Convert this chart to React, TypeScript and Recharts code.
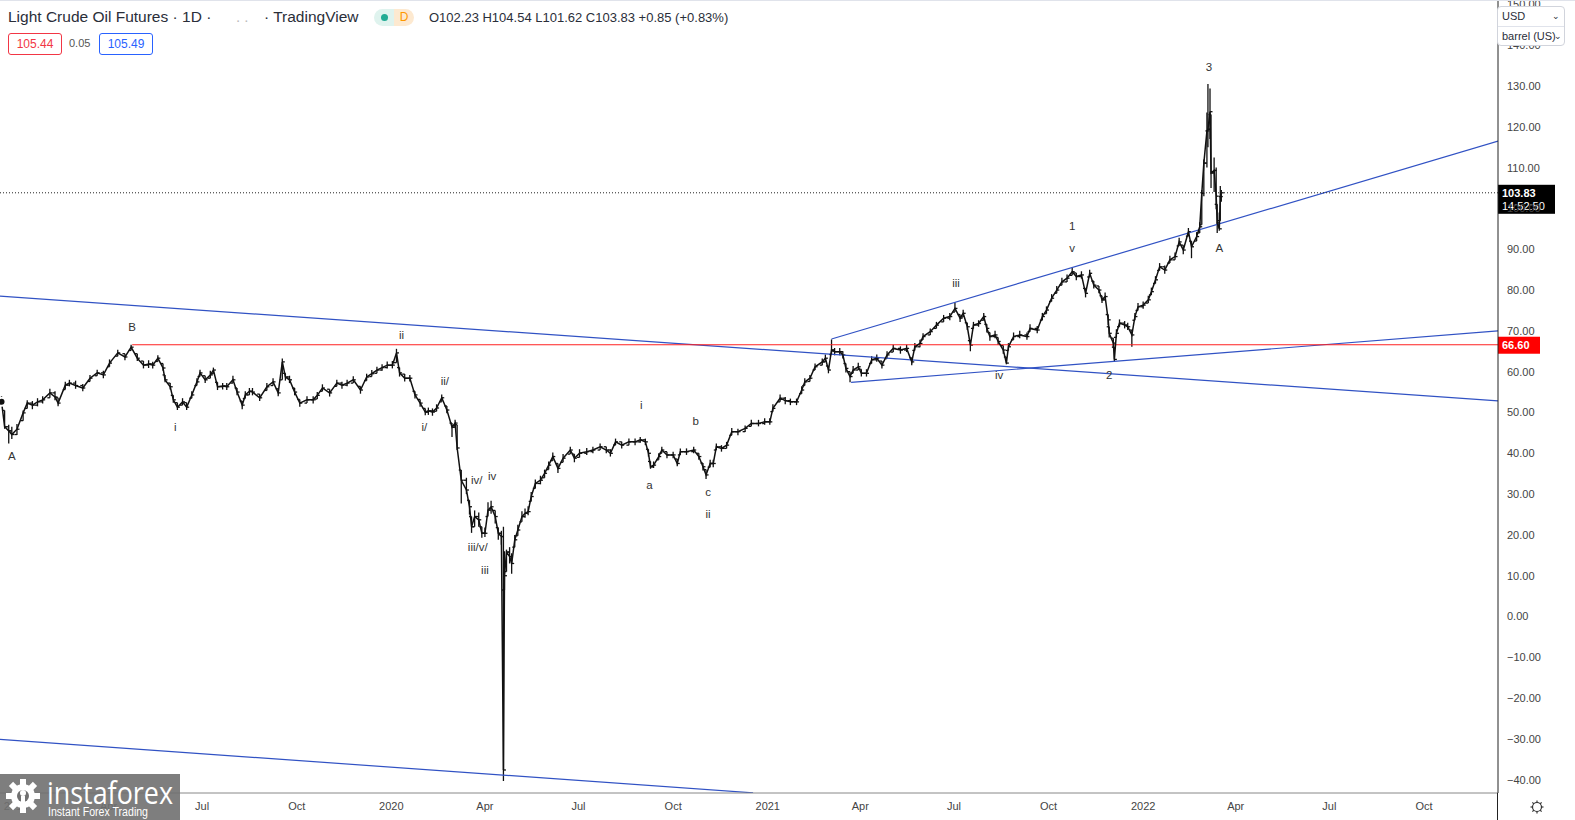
import React from 'react';
import { ComposedChart, Bar, Line, Scatter, XAxis, YAxis, ReferenceLine } from 'recharts';

// daily bars: [day since 2019-01-01, high, low, close]
const bars2019 = [
  [-14, 54.0, 51.8, 52.6], [-11, 50.5, 46.0, 46.5], [-7, 47.0, 42.4, 45.5], [-4, 46.5, 43.5, 44.6],
  [1, 47.2, 44.5, 45.9], [7, 50.5, 48.0, 49.9], [11, 53.0, 51.0, 52.3], [16, 52.8, 50.8, 51.8],
  [21, 53.5, 51.5, 52.6], [26, 54.0, 52.2, 53.1], [33, 55.8, 53.6, 54.8], [38, 55.2, 53.0, 53.8],
  [41, 53.6, 51.5, 52.3], [48, 57.5, 55.6, 56.7], [52, 58.0, 56.4, 57.2], [58, 57.8, 55.8, 56.6],
  [65, 57.0, 55.2, 56.0], [72, 59.2, 57.6, 58.4], [79, 60.5, 59.0, 59.7], [85, 60.2, 58.4, 59.2],
  [91, 63.0, 61.2, 62.1], [99, 65.4, 63.8, 64.6], [106, 64.4, 62.8, 63.6], [112, 66.6, 65.2, 66.0],
  [118, 64.4, 62.6, 63.3], [124, 62.6, 60.8, 61.6], [129, 62.8, 60.9, 61.9], [133, 62.4, 60.8, 61.6],
  [138, 64.0, 62.5, 63.3], [143, 62.0, 60.2, 60.9], [145, 59.2, 57.4, 58.0], [150, 57.2, 55.6, 56.3],
  [153, 54.2, 52.4, 53.1], [157, 52.4, 50.6, 51.3], [162, 53.5, 51.8, 52.6], [166, 52.4, 50.6, 51.3],
  [171, 55.2, 53.5, 54.3], [176, 58.4, 56.6, 57.5], [179, 60.5, 58.8, 59.7], [184, 59.0, 57.2, 58.0],
  [189, 60.2, 58.4, 59.2], [192, 61.0, 59.5, 60.4], [196, 57.4, 55.5, 56.3], [201, 57.2, 55.6, 56.5],
  [205, 57.2, 55.5, 56.3], [211, 59.0, 57.2, 58.0], [215, 56.0, 54.2, 55.0], [220, 52.8, 50.8, 51.8],
  [223, 55.2, 53.4, 54.3], [227, 56.0, 54.3, 55.2], [230, 56.0, 54.2, 55.0], [237, 54.5, 52.8, 53.6],
  [244, 57.2, 55.4, 56.3], [250, 58.4, 56.6, 57.5], [255, 55.8, 54.0, 54.8], [259, 63.2, 58.0, 62.4],
  [262, 59.6, 57.8, 58.7], [266, 59.0, 57.2, 58.0], [271, 56.0, 54.2, 55.0], [276, 53.2, 51.4, 52.3],
  [283, 54.0, 52.3, 53.1], [289, 54.0, 52.2, 53.1], [293, 55.0, 53.3, 54.2], [298, 56.9, 55.2, 56.0],
  [305, 55.7, 53.9, 54.8], [312, 58.0, 56.4, 57.2], [317, 57.5, 55.8, 56.7], [322, 58.0, 56.4, 57.2],
  [328, 58.9, 57.2, 58.0], [335, 56.4, 54.6, 55.5], [341, 59.5, 57.8, 58.7], [346, 60.4, 58.8, 59.5],
  [351, 61.2, 59.6, 60.4], [356, 61.8, 60.2, 61.0], [361, 62.5, 60.8, 61.6],
];

const bars2020 = [
  [366, 62.6, 60.8, 61.6], [370, 65.6, 62.2, 64.6], [373, 61.0, 58.8, 59.7], [378, 59.4, 57.6, 58.4],
  [383, 59.2, 57.6, 58.4], [388, 55.2, 53.4, 54.3], [393, 53.2, 51.4, 52.3], [398, 51.0, 49.3, 50.1],
  [401, 51.2, 49.4, 50.4], [405, 51.0, 49.2, 50.1], [409, 52.0, 50.3, 51.1], [414, 54.4, 52.6, 53.6],
  [419, 51.6, 49.8, 50.6], [424, 47.4, 44.0, 46.4], [427, 48.2, 46.4, 47.4], [429, 47.0, 40.8, 41.3],
  [433, 35.9, 27.7, 33.4], [438, 34.0, 30.0, 31.0], [441, 28.5, 25.0, 26.9], [443, 24.5, 20.5, 22.0],
  [446, 26.0, 22.0, 24.5], [450, 25.5, 22.0, 23.7], [453, 22.0, 19.3, 20.4], [456, 21.8, 19.5, 20.4],
  [459, 28.0, 24.5, 26.1], [462, 28.4, 25.2, 26.9], [466, 26.0, 22.8, 24.5], [469, 21.8, 18.8, 20.4],
  [472, 21.0, 17.6, 19.6], [474, 22.0, -40.3, -37.6], [475, 16.0, 6.5, 10.0], [477, 16.4, 11.0, 15.8],
  [480, 17.0, 13.0, 14.7], [482, 15.5, 10.5, 13.0], [485, 20.0, 17.0, 18.8], [488, 22.5, 19.8, 21.2],
  [492, 25.8, 23.2, 24.5], [495, 26.5, 24.2, 25.3], [498, 27.0, 24.8, 25.7], [501, 30.5, 28.2, 29.4],
  [505, 33.6, 31.4, 32.6], [510, 34.5, 32.4, 33.4], [514, 36.0, 34.0, 35.1], [518, 38.0, 36.0, 37.1],
  [522, 40.2, 38.2, 39.2], [527, 37.5, 35.2, 36.3], [532, 39.8, 37.8, 38.8], [539, 41.6, 39.8, 40.8],
  [543, 39.8, 37.8, 38.8], [548, 41.0, 39.0, 40.0], [555, 41.3, 39.6, 40.4], [561, 41.6, 40.0, 40.8],
  [568, 42.4, 40.8, 41.6], [574, 41.6, 40.0, 40.8], [578, 41.0, 39.2, 40.0], [583, 43.6, 42.0, 42.8],
  [589, 42.8, 41.2, 42.0], [596, 43.6, 42.0, 42.8], [602, 43.6, 42.0, 42.8], [607, 44.0, 42.6, 43.3],
  [612, 43.6, 42.0, 42.8], [615, 41.0, 39.2, 40.0], [617, 38.0, 36.2, 36.7], [620, 38.0, 36.4, 37.1],
  [625, 40.0, 38.4, 39.2], [628, 41.6, 40.0, 40.8], [633, 40.4, 38.8, 39.6], [639, 40.4, 38.8, 39.6],
  [643, 38.6, 36.8, 37.5], [646, 41.2, 39.6, 40.4], [652, 41.2, 39.6, 40.4], [659, 41.6, 40.0, 40.8],
  [664, 40.0, 38.4, 39.2], [668, 37.6, 35.8, 36.7], [671, 36.0, 33.7, 34.7], [675, 38.4, 36.6, 37.5],
  [678, 38.4, 36.6, 37.5], [681, 42.4, 40.8, 41.6], [686, 42.0, 40.4, 41.2], [691, 42.8, 41.2, 42.0],
  [696, 46.2, 44.4, 45.3], [702, 46.0, 44.4, 45.3], [709, 46.8, 45.2, 46.1], [715, 48.2, 46.6, 47.3],
  [722, 48.2, 46.6, 47.3], [728, 48.6, 47.0, 47.7],
];

const bars2021 = [
  [733, 48.6, 47.0, 47.7], [736, 52.0, 50.2, 51.0], [743, 54.4, 52.6, 53.5], [748, 53.8, 52.0, 52.9],
  [753, 53.4, 51.8, 52.6], [759, 53.4, 51.8, 52.6], [764, 56.4, 54.6, 55.5], [767, 58.4, 56.6, 57.5],
  [772, 59.2, 57.6, 58.4], [777, 62.0, 60.4, 61.2], [784, 63.2, 61.6, 62.4], [787, 64.2, 62.4, 63.3],
  [790, 61.4, 59.6, 60.4], [793, 67.9, 64.2, 65.3], [796, 65.8, 64.0, 64.9], [801, 65.8, 64.0, 64.9],
  [804, 65.0, 63.2, 64.1], [807, 62.0, 59.8, 60.8], [811, 60.0, 57.4, 58.8], [814, 61.4, 59.6, 60.4],
  [819, 62.2, 60.4, 61.2], [822, 60.6, 58.8, 59.6], [827, 60.6, 58.8, 59.6], [832, 63.8, 62.0, 62.9],
  [837, 64.2, 62.4, 63.3], [842, 62.6, 60.8, 61.6], [847, 65.0, 63.2, 64.1], [853, 66.6, 64.8, 65.7],
  [860, 66.2, 64.4, 65.3], [866, 66.6, 64.8, 65.7], [871, 63.4, 61.6, 62.4], [874, 67.0, 65.2, 66.1],
  [879, 67.8, 66.0, 66.9], [882, 69.4, 67.8, 68.6], [889, 70.6, 69.0, 69.8], [895, 72.2, 70.6, 71.4],
  [902, 73.9, 72.2, 73.1], [908, 74.4, 72.6, 73.5], [913, 77.0, 74.6, 75.5], [918, 74.0, 72.2, 73.1],
  [921, 75.2, 73.4, 74.3], [925, 72.0, 70.2, 71.0], [928, 67.6, 65.0, 66.5], [931, 72.2, 70.6, 71.4],
  [936, 72.6, 71.0, 71.8], [941, 74.4, 72.6, 73.5], [944, 71.6, 69.6, 70.6], [947, 69.6, 67.6, 68.6],
  [952, 70.0, 68.2, 69.0], [955, 68.4, 66.6, 67.4], [960, 66.4, 64.4, 65.3], [963, 63.6, 61.8, 62.1],
  [965, 67.0, 65.2, 66.1], [970, 69.6, 67.8, 68.6], [976, 70.0, 68.2, 69.0], [983, 69.6, 67.8, 68.6],
  [986, 71.6, 69.8, 70.6], [993, 71.2, 69.4, 70.2], [998, 74.4, 72.6, 73.5], [1002, 76.0, 74.2, 75.1],
  [1007, 79.0, 77.2, 78.0], [1012, 81.0, 79.2, 80.0], [1017, 83.0, 81.2, 82.0], [1022, 83.8, 82.0, 82.9],
  [1027, 85.4, 83.6, 84.5], [1031, 84.2, 82.4, 83.3], [1036, 84.6, 82.8, 83.7], [1040, 80.4, 78.2, 79.2],
  [1044, 85.0, 83.2, 84.1], [1048, 82.2, 80.4, 81.2], [1053, 81.0, 79.2, 80.0], [1056, 78.6, 76.8, 77.6],
  [1059, 79.4, 77.6, 78.4], [1062, 74.0, 71.4, 72.7], [1063, 71.0, 68.4, 69.4], [1067, 68.2, 66.0, 67.0],
  [1068, 66.0, 62.4, 63.0], [1070, 70.4, 68.4, 69.4], [1073, 72.8, 71.0, 71.9], [1078, 72.4, 70.6, 71.4],
  [1081, 72.0, 70.2, 71.0], [1085, 70.2, 66.1, 69.0], [1088, 74.4, 72.6, 73.5], [1091, 76.8, 75.0, 75.9],
];

const bars2022 = [
  [1096, 77.2, 75.4, 76.3], [1101, 78.6, 76.8, 77.6], [1104, 80.6, 78.8, 79.6], [1108, 83.4, 81.6, 82.5],
  [1112, 86.6, 84.8, 85.7], [1117, 86.0, 84.0, 84.9], [1122, 88.4, 86.6, 87.4], [1127, 89.2, 87.4, 88.2],
  [1131, 92.8, 90.8, 91.8], [1135, 91.0, 88.8, 89.8], [1140, 95.2, 93.2, 94.3], [1143, 92.0, 87.8, 90.6],
  [1148, 94.2, 92.0, 93.1], [1151, 96.6, 94.0, 95.5], [1153, 104.5, 96.0, 103.7], [1155, 112.0, 103.0, 111.1],
  [1158, 123.5, 110.0, 119.0], [1159, 130.5, 115.0, 119.4], [1161, 129.4, 117.0, 123.7], [1162, 123.0, 105.0, 108.7],
  [1165, 112.5, 104.0, 109.3], [1167, 110.0, 99.8, 103.0], [1168, 101.0, 94.0, 96.4], [1170, 99.0, 94.5, 95.0],
  [1171, 105.5, 97.0, 102.9], [1172, 104.54, 101.62, 103.83],
];

const dateTicks = [0, 90, 181, 273, 365, 456, 547, 639, 731, 821, 912, 1004, 1096, 1186, 1277, 1369];
const dateTickLabels = ['2019', 'Apr', 'Jul', 'Oct', '2020', 'Apr', 'Jul', 'Oct', '2021', 'Apr', 'Jul', 'Oct', '2022', 'Apr', 'Jul', 'Oct'];
const priceTicks = [-40, -30, -20, -10, 0, 10, 20, 30, 40, 50, 60, 70, 80, 90, 100, 110, 120, 130, 140, 150];

// elliott wave marks: day, price, text
const waveLabels = [
  { d: -4, p: 39.3, t: 'A' }, { d: 113, p: 70.9, t: 'B' }, { d: 155, p: 46.5, t: 'i' },
  { d: 375, p: 69.0, t: 'ii' }, { d: 397, p: 46.5, t: 'i/' }, { d: 417, p: 57.7, t: 'ii/' },
  { d: 448, p: 33.5, t: 'iv/' }, { d: 463, p: 34.4, t: 'iv' }, { d: 449, p: 17.1, t: 'iii/v/' },
  { d: 456, p: 11.4, t: 'iii' }, { d: 608, p: 51.8, t: 'i' }, { d: 661, p: 48.0, t: 'b' },
  { d: 616, p: 32.2, t: 'a' }, { d: 673, p: 30.4, t: 'c' }, { d: 673, p: 25.1, t: 'ii' },
  { d: 914, p: 81.8, t: 'iii' }, { d: 956, p: 59.2, t: 'iv' }, { d: 1027, p: 95.7, t: '1' },
  { d: 1027, p: 90.2, t: 'v' }, { d: 1063, p: 59.2, t: '2' }, { d: 1160, p: 134.7, t: '3' },
  { d: 1170, p: 90.4, t: 'A' },
];

// drawn trend lines: [day, price] pairs
const trendLines = [
  [[-15.5, 78.5], [1441, 52.85]],
  [[-15.5, -30.1], [716.7, -43.2]],
  [[793, 68.0], [1441, 116.5]],
  [[812, 57.4], [1441, 70.0]],
];
const resistanceStart = 113;
const resistanceLevel = 66.6;
const lastPrice = 103.83;
const countdown = '14:52:50';

const FONT = "'Liberation Sans', Arial, sans-serif";
const BLUE = '#3152c4';

const rows = [...bars2019, ...bars2020, ...bars2021, ...bars2022].map(([d, h, l, c], i, all) => {
  const prev = i > 0 ? all[i - 1][3] : c;
  return { d, h, l, c, o: Math.min(h, Math.max(l, prev)), range: [l, h] };
});
const tickText: Record<number, string> = {};
dateTicks.forEach((t, i) => { tickText[t] = dateTickLabels[i]; });

const OhlcBar = (props: any) => {
  const { x, y, width, height, payload } = props;
  if (!payload || x == null) return null;
  const top = Math.min(y, y + height);
  const bottom = Math.max(y, y + height);
  const span = payload.h - payload.l || 1;
  const cx = x + width / 2;
  const at = (v: number) => top + ((payload.h - v) / span) * (bottom - top);
  return (
    <g stroke="#111" strokeWidth={1.3}>
      <line x1={cx} x2={cx} y1={top} y2={bottom} />
      <line x1={cx - 2.5} x2={cx} y1={at(payload.o)} y2={at(payload.o)} />
      <line x1={cx} x2={cx + 2.5} y1={at(payload.c)} y2={at(payload.c)} />
    </g>
  );
};

const WaveText = (props: any) => (
  <text x={props.cx} y={props.cy} textAnchor="middle" dominantBaseline="central" fontSize={11.5} fontFamily={FONT} style={{ fill: '#333' }}>
    {props.payload.t}
  </text>
);

const LastBadge = (props: any) => {
  const { x, y, width } = props.viewBox;
  const bx = x + width;
  return (
    <g fontFamily={FONT} fontSize={11} fontWeight="bold" fill="#fff">
      <rect x={bx} y={y - 8} width={57} height={29} fill="#000" />
      <text x={bx + 4} y={y + 4} stroke="none">{lastPrice.toFixed(2)}</text>
      <text x={bx + 4} y={y + 17} stroke="none" fontWeight="normal">{countdown}</text>
    </g>
  );
};

const LevelBadge = (props: any) => {
  const { x, y, width } = props.viewBox;
  const bx = x + width;
  return (
    <g fontFamily={FONT} fontSize={11} fontWeight="bold">
      <rect x={bx} y={y - 8} width={42} height={17} fill="#ff0000" />
      <text x={bx + 4} y={y + 4} fill="#fff">{resistanceLevel.toFixed(2)}</text>
    </g>
  );
};

const fmtPrice = (v: number) => (v < 0 ? '\u2212' + Math.abs(v).toFixed(2) : v.toFixed(2));

const Logo = () => (
  <svg width={180} height={46} style={{ position: 'absolute', left: 0, top: 774 }}>
    <rect width={180} height={46} fill="rgba(112,112,112,0.9)" />
    <g fill="#fff" transform="translate(23,22)">
      {[0, 45, 90, 135, 180, 225, 270, 315].map((a) => (
        <rect key={a} x={-3} y={-17} width={6} height={7} transform={`rotate(${a})`} />
      ))}
      <circle r={12} />
      <circle r={6} fill="rgba(112,112,112,1)" />
      <circle cy={-3} r={3} />
      <rect x={-2} y={0} width={4} height={12} />
    </g>
    <text x={47} y={30} fill="#fff" fontFamily="'Open Sans', sans-serif" fontSize={31} textLength={126} lengthAdjust="spacingAndGlyphs">instaforex</text>
    <text x={48} y={42} fill="#fff" fontFamily={FONT} fontSize={12} textLength={100} lengthAdjust="spacingAndGlyphs">Instant Forex Trading</text>
  </svg>
);

const Header = () => (
  <div style={{ position: 'absolute', left: 0, top: 0, width: 1575, height: 820, fontFamily: FONT, pointerEvents: 'none' }}>
    <div style={{ position: 'absolute', left: 0, top: 0, width: 1575, height: 1, background: '#e0e3eb' }} />
    <div style={{ position: 'absolute', left: 1497, top: 793, width: 1, height: 27, background: '#222' }} />
    <span style={{ position: 'absolute', left: 8, top: 8, fontSize: 15.5, color: '#2a2e39' }}>Light Crude Oil Futures · 1D ·</span>
    <span style={{ position: 'absolute', left: 236, top: 8, fontSize: 15, color: '#bbb' }}>. .</span>
    <span style={{ position: 'absolute', left: 264, top: 8, fontSize: 15.5, color: '#2a2e39' }}>· TradingView</span>
    <div style={{ position: 'absolute', left: 374, top: 9, width: 40, height: 17, borderRadius: 9, overflow: 'hidden', display: 'flex' }}>
      <div style={{ width: 20, background: '#dff3ee', display: 'flex', alignItems: 'center', justifyContent: 'center' }}>
        <div style={{ width: 7, height: 7, borderRadius: 4, background: '#22ab94' }} />
      </div>
      <div style={{ width: 20, background: '#fde9d0', color: '#ff9800', fontSize: 12, lineHeight: '17px', textAlign: 'center' }}>D</div>
    </div>
    <span style={{ position: 'absolute', left: 429, top: 10, fontSize: 13, color: '#2a2e39' }}>
      O102.23 H104.54 L101.62 C103.83 +0.85 (+0.83%)
    </span>
    <div style={{ position: 'absolute', left: 8, top: 33, width: 52, height: 20, border: '1px solid #f23645', borderRadius: 3, color: '#f23645', fontSize: 12, lineHeight: '20px', textAlign: 'center' }}>105.44</div>
    <span style={{ position: 'absolute', left: 69, top: 37, fontSize: 11, color: '#555' }}>0.05</span>
    <div style={{ position: 'absolute', left: 99, top: 33, width: 52, height: 20, border: '1px solid #2962ff', borderRadius: 3, color: '#2962ff', fontSize: 12, lineHeight: '20px', textAlign: 'center' }}>105.49</div>
    <div style={{ position: 'absolute', left: 1497, top: 6, width: 66, height: 38, border: '1px solid #d1d4dc', borderRadius: 4, background: '#fff', fontSize: 11, color: '#2a2e39' }}>
      <div style={{ height: 19, lineHeight: '19px', paddingLeft: 4, borderBottom: '1px solid #e0e3eb', position: 'relative' }}>
        USD<span style={{ position: 'absolute', right: 4, fontSize: 9 }}>⌄</span>
      </div>
      <div style={{ height: 18, lineHeight: '18px', paddingLeft: 4, position: 'relative' }}>
        barrel (US)<span style={{ position: 'absolute', right: 2, fontSize: 9 }}>⌄</span>
      </div>
    </div>
    <svg width={16} height={16} style={{ position: 'absolute', left: 1529, top: 799 }}>
      <g stroke="#333" fill="none" strokeWidth={1.2}>
        <circle cx={8} cy={8} r={4.5} />
        {[0, 45, 90, 135, 180, 225, 270, 315].map((a) => (
          <line key={a} x1={8} y1={1.5} x2={8} y2={3.5} transform={`rotate(${a} 8 8)`} />
        ))}
      </g>
    </svg>
  </div>
);

export default function App() {
  return (
    <div style={{ position: 'absolute', left: 0, top: 0, width: 1575, height: 820, background: '#fff', overflow: 'hidden' }}>
      <ComposedChart width={1575} height={820} data={rows} margin={{ top: 0, right: 0, left: 0, bottom: 0 }}>
        <XAxis
          dataKey="d"
          type="number"
          domain={[-15.5, 1441]}
          allowDataOverflow
          ticks={dateTicks}
          interval={0}
          tickFormatter={(v: number) => tickText[v] ?? ''}
          height={27}
          tickLine={false}
          tickSize={0}
          tickMargin={9}
          axisLine={{ stroke: '#888' }}
          tick={{ fill: '#444', fontSize: 11, fontFamily: FONT }}
        />
        <YAxis
          orientation="right"
          type="number"
          domain={[-43.24, 151.07]}
          allowDataOverflow
          ticks={priceTicks}
          interval={0}
          tickFormatter={fmtPrice}
          width={77}
          tickLine={false}
          tickSize={0}
          tickMargin={9}
          axisLine={{ stroke: '#222' }}
          tick={{ fill: '#444', fontSize: 11, fontFamily: FONT, textAnchor: 'start' }}
        />
        {trendLines.map(([a, b], i) => (
          <ReferenceLine
            key={i}
            segment={[{ x: a[0], y: a[1] }, { x: b[0], y: b[1] }]}
            stroke={BLUE}
            strokeWidth={1.2}
            ifOverflow="hidden"
          />
        ))}
        <ReferenceLine
          segment={[{ x: resistanceStart, y: resistanceLevel }, { x: 1441, y: resistanceLevel }]}
          stroke="#ff2020"
          strokeWidth={1.2}
          ifOverflow="visible"
          label={(p: any) => <LevelBadge {...p} />}
        />
        <ReferenceLine
          y={lastPrice}
          stroke="#222"
          strokeDasharray="1 2"
          ifOverflow="visible"
          label={(p: any) => <LastBadge {...p} />}
        />
        <Line dataKey="c" type="linear" stroke="#111" strokeWidth={1.5} dot={false} isAnimationActive={false} />
        <Bar dataKey="range" barSize={1} shape={OhlcBar} isAnimationActive={false} />
        <Scatter data={waveLabels} dataKey="p" shape={WaveText} isAnimationActive={false} />
      </ComposedChart>
      <Header />
      <Logo />
    </div>
  );
}
